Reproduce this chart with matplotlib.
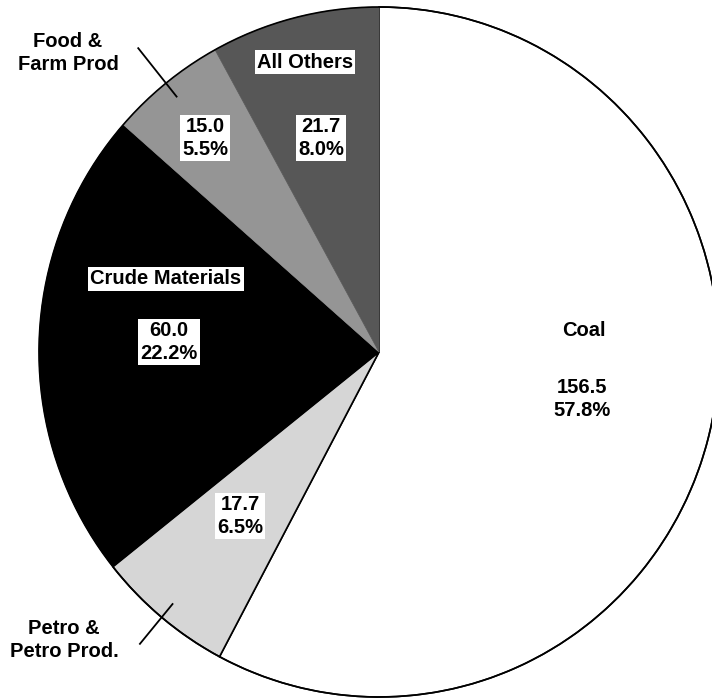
import numpy as np
import matplotlib
matplotlib.use("Agg")
import matplotlib.pyplot as plt

# data
categories = ["Coal", "Petro & Petro Prod.", "Crude Materials", "Food & Farm Prod", "All Others"]
values = [156.5, 17.7, 60.0, 15.0, 21.7]
percents = ["57.8%", "6.5%", "22.2%", "5.5%", "8.0%"]
colors = ["white", "#d6d6d6", "black", "#959595", "#575757"]

W, H = 712, 698
CX, CY = 379, 352      # pie centre in pixels
RX, RY = 340, 345      # pie radius in pixels


def px(x, y):
    # pixel position -> data coords
    return (x - CX) / RX, (CY - y) / RY


fig = plt.figure(figsize=(W / 100, H / 100), dpi=100)
ax = fig.add_axes([0, 0, 1, 1])

wedges, _ = ax.pie(values, colors=colors, startangle=90, counterclock=False,
                   wedgeprops=dict(edgecolor="black", linewidth=1.2))
# the shaded slices have no drawn border between them
for w in wedges[2:]:
    w.set_edgecolor(w.get_facecolor())
    w.set_linewidth(0.5)
theta = np.linspace(0, 2 * np.pi, 400)
ax.plot(np.cos(theta), np.sin(theta), color="black", lw=1.2)

ax.set_aspect("auto")
ax.set_xlim((0 - CX) / RX, (W - CX) / RX)
ax.set_ylim((CY - H) / RY, CY / RY)
ax.axis("off")

font = dict(family=["Liberation Sans", "DejaVu Sans"], fontweight="bold", fontsize=14.5)
box = dict(boxstyle="square,pad=0.12", fc="white", ec="none")

# value labels inside the slices
num_pos = [(582, 399), (240, 516), (169, 342), (205, 138), (321, 138)]
for i, (x, y) in enumerate(num_pos):
    txt = f"{values[i]:.1f}\n{percents[i]}"
    kw = dict(bbox=box) if i != 0 else {}
    ax.text(*px(x, y), txt, ha="center", va="center", linespacing=1.25, **font, **kw)

ax.text(*px(584, 331), categories[0], ha="center", va="center", **font)
ax.text(*px(166, 279), categories[2], ha="center", va="center", bbox=box, **font)
ax.text(*px(305, 62), categories[4], ha="center", va="center", bbox=box, **font)

# outside labels with leader lines along slice mid angles
cum = np.cumsum([0] + values)
tot = cum[-1]


def mid_angle(i):
    frac = (cum[i] + cum[i + 1]) / 2 / tot
    return np.deg2rad(90 - 360 * frac)


for i, (r0, r1), pos, lbl in [(3, (0.95, 1.13), (68, 53), "Food &\nFarm Prod"),
                               (1, (0.95, 1.10), (64, 640), "Petro &\nPetro Prod.")]:
    a = mid_angle(i)
    ax.plot([r0 * np.cos(a), r1 * np.cos(a)], [r0 * np.sin(a), r1 * np.sin(a)],
            color="black", lw=1.3)
    ax.text(*px(*pos), lbl, ha="center", va="center", linespacing=1.3, **font)

fig.savefig("out.png", dpi=100)
